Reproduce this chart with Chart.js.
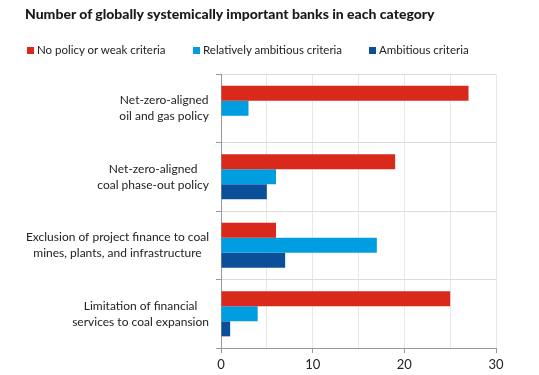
<!DOCTYPE html>
<html>
<head>
<meta charset="utf-8">
<script src="https://cdn.jsdelivr.net/npm/chart.js@4"></script>
<style>
  body { margin: 0; background: #fff; font-family: Lato, "Open Sans", sans-serif; }
  #wrap { position: relative; width: 539px; height: 375px; }
  #titulo { position: absolute; left: 25px; top: 5px; font-size: 14px; font-weight: 900; color: #1a1a1a; line-height: 18px; white-space: nowrap; }
  #legenda { position: absolute; left: 0; top: 43px; font-size: 11.5px; color: #222; line-height: 14px; }
  #legenda .item { position: absolute; white-space: nowrap; }
  #legenda .box { display: inline-block; width: 7px; height: 7px; margin-right: 3px; vertical-align: 0px; }
</style>
</head>
<body>
<div id="wrap">
  <div id="titulo">Number of globally systemically important banks in each category</div>
  <div id="legenda"></div>
  <canvas id="grafico" width="539" height="375"></canvas>
</div>
<script>
// dados
const categorias = [
  ['Net-zero-aligned', 'oil and gas policy'],
  ['Net-zero-aligned', 'coal phase-out policy'],
  ['Exclusion of project finance to coal', 'mines, plants, and infrastructure'],
  ['Limitation of financial', 'services to coal expansion']
];
const nomesSeries = ['No policy or weak criteria', 'Relatively ambitious criteria', 'Ambitious criteria'];
const fraco = [27, 19, 6, 25];
const relativo = [3, 6, 17, 4];
const ambicioso = [0, 5, 7, 1];
const xTicks = [0, 10, 20, 30];

const cores = ['#d9291c', '#009ee0', '#0b4f98'];

// legenda em html
const legPos = [27, 193, 369];
const leg = document.getElementById('legenda');
nomesSeries.forEach((n, i) => {
  const d = document.createElement('div');
  d.className = 'item';
  d.style.left = legPos[i] + 'px';
  d.innerHTML = `<span class="box" style="background:${cores[i]}"></span>${n}`;
  leg.appendChild(d);
});

// rotulos do eixo y: bloco alinhado a direita, linhas centralizadas
const rotulosY = {
  id: 'rotulosY',
  afterDraw(chart) {
    const ctx = chart.ctx, sy = chart.scales.y;
    ctx.save();
    ctx.font = '12px Lato, "Open Sans", sans-serif';
    ctx.fillStyle = '#222';
    ctx.textAlign = 'center';
    ctx.textBaseline = 'middle';
    const dir = 209, lh = 16;
    categorias.forEach((linhas, i) => {
      const yc = sy.getPixelForValue(i);
      const maxW = Math.max(...linhas.map(l => ctx.measureText(l).width));
      const xc = dir - maxW / 2;
      linhas.forEach((l, k) => {
        ctx.fillText(l, xc, yc + (k - (linhas.length - 1) / 2) * lh);
      });
    });
    ctx.restore();
  }
};

new Chart(document.getElementById('grafico'), {
  type: 'bar',
  data: {
    labels: categorias.map(c => c.join(' ')),
    datasets: [
      { label: nomesSeries[0], data: fraco, backgroundColor: cores[0] },
      { label: nomesSeries[1], data: relativo, backgroundColor: cores[1] },
      { label: nomesSeries[2], data: ambicioso, backgroundColor: cores[2] }
    ]
  },
  options: {
    indexAxis: 'y',
    responsive: false,
    animation: false,
    datasets: { bar: { barPercentage: 1, categoryPercentage: 0.66 } },
    layout: { padding: { top: 74, right: 43, bottom: 0, left: 0 } },
    plugins: { legend: { display: false }, tooltip: { enabled: false } },
    scales: {
      x: {
        min: 0, max: 30,
        ticks: {
          stepSize: 5,
          color: '#222',
          font: { family: 'Lato, "Open Sans", sans-serif', size: 13 },
          padding: 4,
          callback: v => xTicks.includes(v) ? v : ''
        },
        grid: {
          color: '#e8e8e8',
          tickLength: 5,
          tickColor: c => (c.tick && xTicks.includes(c.tick.value)) ? '#999' : 'rgba(0,0,0,0)'
        },
        border: { color: '#999' },
        afterFit: s => { s.height = 27; }
      },
      y: {
        ticks: { display: false },
        grid: { color: '#dcdcdc', tickLength: 5, tickColor: '#999' },
        border: { color: '#999' },
        afterFit: s => { s.width = 221; }
      }
    }
  },
  plugins: [rotulosY]
});
</script>
</body>
</html>
